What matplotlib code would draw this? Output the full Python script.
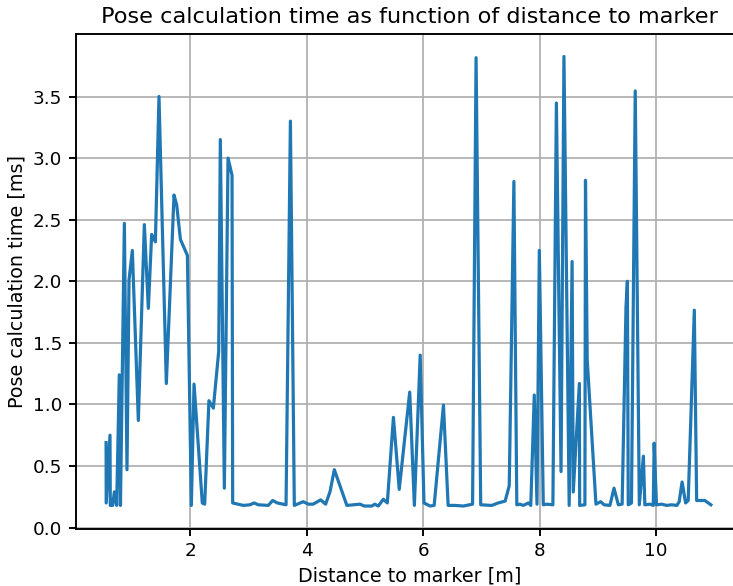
import matplotlib
matplotlib.use("Agg")
import matplotlib.pyplot as plt

distance_m = [
    0.553, 0.555, 0.62, 0.625, 0.666, 0.695, 0.735, 0.78, 0.80, 0.867,
    0.912, 0.947, 1.004, 1.107, 1.21, 1.279, 1.336, 1.40, 1.462, 1.588,
    1.72, 1.766, 1.83, 1.95, 2.018, 2.064, 2.206, 2.247, 2.32, 2.396,
    2.488, 2.516, 2.585, 2.648, 2.717, 2.728, 2.91, 3.026, 3.094, 3.17,
    3.34, 3.415, 3.495, 3.645, 3.72, 3.787, 3.94, 4.03, 4.11, 4.24,
    4.325, 4.40, 4.475, 4.69, 4.915, 4.99, 5.12, 5.17, 5.23, 5.316,
    5.385, 5.49, 5.59, 5.77, 5.85, 5.95, 6.015, 6.12, 6.19, 6.35,
    6.43, 6.55, 6.69, 6.85, 6.91, 6.99, 7.18, 7.29, 7.41, 7.48,
    7.56, 7.61, 7.665, 7.72, 7.81, 7.85, 7.91, 7.957, 7.997, 8.065,
    8.12, 8.23, 8.29, 8.37, 8.42, 8.51, 8.56, 8.58, 8.685, 8.69,
    8.78, 8.79, 8.82, 8.97, 9.05, 9.11, 9.21, 9.28, 9.355, 9.42,
    9.486, 9.51, 9.525, 9.58, 9.645, 9.715, 9.785, 9.81, 9.90, 9.955,
    9.97, 10.01, 10.10, 10.185, 10.27, 10.36, 10.40, 10.45, 10.51, 10.555,
    10.66, 10.70, 10.84, 10.945,
]
time_ms = [
    0.69, 0.20, 0.75, 0.18, 0.18, 0.29, 0.18, 1.24, 0.18, 2.47,
    0.47, 2.01, 2.25, 0.87, 2.46, 1.78, 2.38, 2.32, 3.50, 1.17,
    2.70, 2.62, 2.34, 2.21, 0.18, 1.165, 0.20, 0.19, 1.03, 0.97,
    1.43, 3.15, 0.32, 3.00, 2.86, 0.20, 0.18, 0.185, 0.20, 0.185,
    0.18, 0.22, 0.20, 0.185, 3.30, 0.18, 0.21, 0.19, 0.19, 0.225,
    0.19, 0.29, 0.47, 0.18, 0.19, 0.175, 0.175, 0.19, 0.175, 0.23,
    0.20, 0.895, 0.31, 1.10, 0.18, 1.40, 0.20, 0.175, 0.18, 0.995,
    0.18, 0.18, 0.175, 0.19, 3.815, 0.185, 0.18, 0.20, 0.215, 0.34,
    2.81, 0.185, 0.19, 0.18, 0.20, 0.18, 1.076, 0.19, 2.25, 0.185,
    0.19, 0.185, 3.447, 0.455, 3.825, 0.18, 2.16, 0.29, 1.17, 0.18,
    0.185, 2.82, 1.36, 0.19, 0.21, 0.185, 0.18, 0.32, 0.185, 0.19,
    1.79, 2.00, 0.185, 0.20, 3.545, 0.185, 0.58, 0.185, 0.19, 0.18,
    0.685, 0.185, 0.19, 0.18, 0.185, 0.18, 0.21, 0.37, 0.20, 0.22,
    1.765, 0.22, 0.22, 0.185,
]
x_ticks = [2, 4, 6, 8, 10]
y_ticks = [0.0, 0.5, 1.0, 1.5, 2.0, 2.5, 3.0, 3.5]

dpi = 115
fig = plt.figure(figsize=(733 / dpi, 586 / dpi), dpi=dpi)
ax = fig.add_axes([76 / 733, 1 - 528.5 / 586, (743.2 - 76) / 733, (528.5 - 34) / 586])
ax.plot(distance_m, time_ms, color="#1f77b4", linewidth=2.0)
ax.set_xlim(0.036, 11.5)
ax.set_ylim(-0.0075, 4.0075)
ax.set_xticks(x_ticks)
ax.set_yticks(y_ticks)
ax.set_yticklabels([f"{v:.1f}" for v in y_ticks])
ax.grid(True, color="#b0b0b0", linewidth=1.1)
ax.set_axisbelow(True)
for side in ("left", "bottom", "top"):
    ax.spines[side].set_linewidth(1.2)
ax.spines["right"].set_visible(False)
ax.tick_params(labelsize=11.5, length=4.5, width=1.2, pad=4)
ax.set_xlabel("Distance to marker [m]", fontsize=12, labelpad=4)
ax.set_ylabel("Pose calculation time [ms]", fontsize=12, labelpad=4)
ax.set_title("Pose calculation time as function of distance to marker", fontsize=14, pad=7)
fig.savefig("out.png", dpi=dpi)
